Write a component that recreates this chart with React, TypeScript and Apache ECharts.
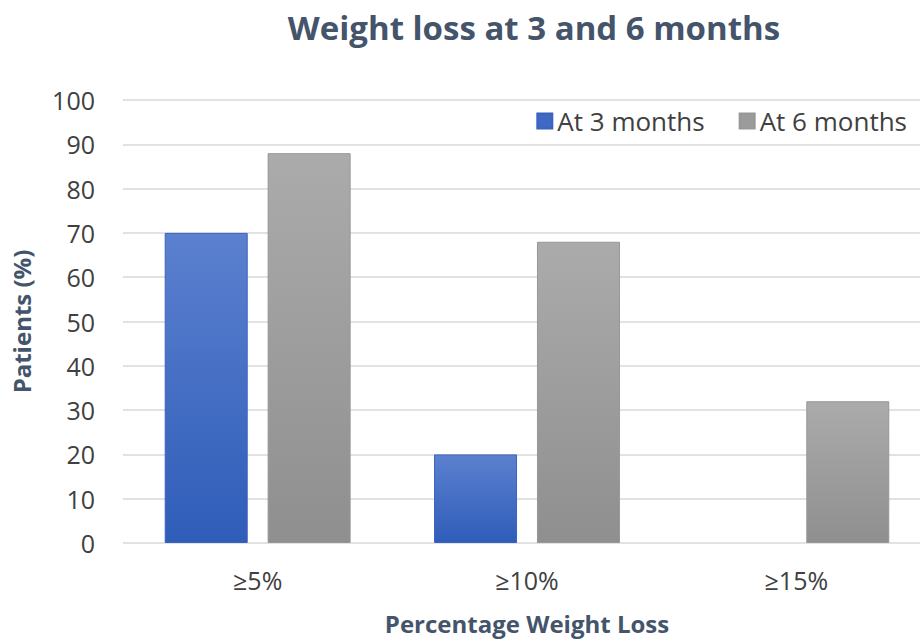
import React, { useEffect, useRef } from "react";
import * as echarts from "echarts";

const categories = ["≥5%", "≥10%", "≥15%"];
const at3Months = [70, 20, null];
const at6Months = [88, 68, 32];
const yTicks = { min: 0, max: 100, interval: 10 };

export default function App() {
  const ref = useRef<HTMLDivElement>(null);
  useEffect(() => {
    if (!ref.current) return;
    const chart = echarts.init(ref.current, null, { renderer: "svg" });
    const font = "'Open Sans', 'Noto Sans', sans-serif";
    chart.setOption({
      animation: false,
      backgroundColor: "#ffffff",
      title: {
        text: "Weight loss at 3 and 6 months",
        left: 529,
        textAlign: "center",
        top: 6,
        textStyle: { fontFamily: font, fontWeight: "bold", fontSize: 33, color: "#44546A" },
      },
      legend: {
        top: 103,
        right: 8,
        icon: "rect",
        itemWidth: 15,
        itemHeight: 15,
        itemGap: 34,
        textStyle: { fontFamily: font, fontSize: 26, color: "#404040" },
        data: [
          { name: "At 3 months", itemStyle: { color: "#3F69C4" } },
          { name: "At 6 months", itemStyle: { color: "#9B9B9B" } },
        ],
      },
      grid: { left: 123, right: -11, top: 100, bottom: 98, containLabel: false, outerBoundsMode: "none" },
      xAxis: {
        type: "category",
        data: categories,
        axisLine: { show: false },
        axisTick: { show: false },
        axisLabel: { fontFamily: font, fontSize: 25, color: "#404040", margin: 24 },
        name: "Percentage Weight Loss",
        nameLocation: "middle",
        nameGap: 68,
        nameTextStyle: { fontFamily: font, fontWeight: "bold", fontSize: 24, color: "#44546A" },
      },
      yAxis: {
        type: "value",
        min: yTicks.min,
        max: yTicks.max,
        interval: yTicks.interval,
        axisLine: { show: false },
        axisTick: { show: false },
        splitLine: { lineStyle: { color: "#D9D9D9", width: 1.5 } },
        axisLabel: { fontFamily: font, fontSize: 25, color: "#404040", margin: 28 },
        name: "Patients (%)",
        nameLocation: "middle",
        nameGap: 90,
        nameTextStyle: { fontFamily: font, fontWeight: "bold", fontSize: 24, color: "#44546A" },
      },
      series: [
        {
          name: "At 3 months",
          type: "bar",
          data: at3Months,
          barWidth: 83,
          barGap: "24%",
          itemStyle: {
            color: new echarts.graphic.LinearGradient(0, 0, 0, 1, [
              { offset: 0, color: "#5B80CF" },
              { offset: 1, color: "#2F5DB9" },
            ]),
            borderColor: "#3A63BE",
            borderWidth: 1,
          },
        },
        {
          name: "At 6 months",
          type: "bar",
          data: at6Months,
          barWidth: 83,
          itemStyle: {
            color: new echarts.graphic.LinearGradient(0, 0, 0, 1, [
              { offset: 0, color: "#ABABAB" },
              { offset: 1, color: "#8F8F8F" },
            ]),
            borderColor: "#979797",
            borderWidth: 1,
          },
        },
      ],
    });
    return () => chart.dispose();
  }, []);
  return <div ref={ref} style={{ width: 920, height: 641, position: "fixed", left: 0, top: 0 }} />;
}
